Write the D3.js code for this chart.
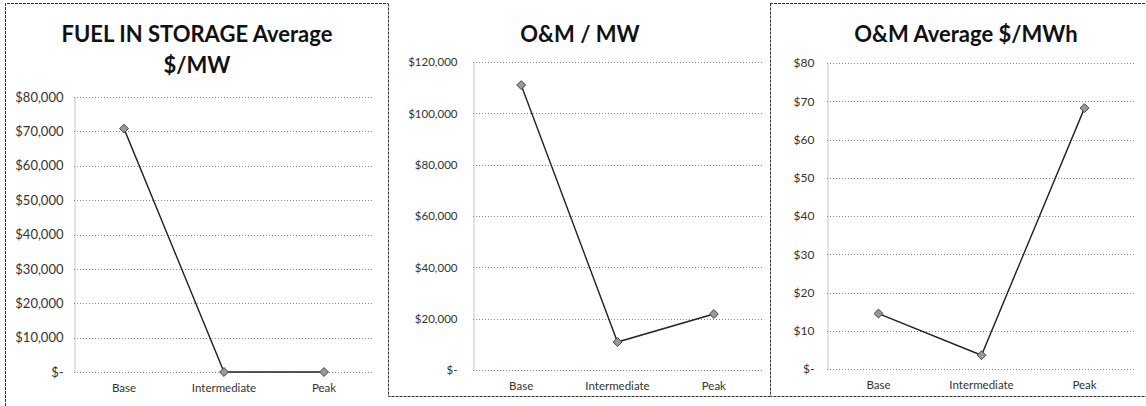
<!DOCTYPE html>
<html>
<head>
<meta charset="utf-8">
<script src="https://cdn.jsdelivr.net/npm/d3@7"></script>
<style>
  body { margin: 0; background: #fff; }
  svg { display: block; font-family: Lato, "Open Sans", sans-serif; }
</style>
</head>
<body>
<svg id="chart" width="1146" height="406"></svg>
<script>
// chart values
const categories = ["Base", "Intermediate", "Peak"]

const fuelValues = [70800, 0, 0]
const fuelTicks = [0, 10000, 20000, 30000, 40000, 50000, 60000, 70000, 80000]

const omMwValues = [111000, 10900, 21800]
const omMwTicks = [0, 20000, 40000, 60000, 80000, 100000, 120000]

const omMwhValues = [14.5, 3.6, 68.2]
const omMwhTicks = [0, 10, 20, 30, 40, 50, 60, 70, 80]

const money = v => v === 0 ? "$-" : "$" + d3.format(",")(v)

const svg = d3.select("#chart")
svg.append("rect").attr("width", 1146).attr("height", 406).attr("fill", "#fff")

// panel frames (dotted, like the scanned original)
const frame = svg.append("g")
  .attr("fill", "none").attr("stroke", "#333").attr("stroke-width", 1)
  .attr("stroke-dasharray", "3,1")
frame.append("path").attr("d", "M5.5,406 V3.5 H388")
frame.append("path").attr("d", "M388.5,3.5 V396.5 H770")
frame.append("path").attr("d", "M770.5,3.5 V396.5 H1146 M770,3.5 H1146")

function LineChart(opts){
  const {values, ticks, title, x0, x1, top, bottom, titleX, tickFont, pad, titleSize} = opts

  const g = svg.append("g")

  const x = d3.scaleBand().domain(categories).range([x0, x1])
  const y = d3.scaleLinear().domain([0, d3.max(ticks)]).range([bottom, top])

  // gridlines
  g.append("g")
   .selectAll("line").data(ticks).join("line")
     .attr("x1", x0).attr("x2", x1)
     .attr("y1", d => Math.round(y(d)) + 0.5).attr("y2", d => Math.round(y(d)) + 0.5)
     .attr("stroke", "#888").attr("stroke-width", 1)
     .attr("stroke-dasharray", "1,2")

  // y axis
  const yAxis = g.append("g")
    .attr("transform", `translate(${x0 + 0.5},0)`)
    .call(d3.axisLeft(y).tickValues(ticks).tickFormat(money).tickSize(0).tickPadding(pad))
  yAxis.select(".domain").attr("stroke", "#888").attr("stroke-dasharray", "1,1")
  yAxis.selectAll("text").attr("font-size", tickFont).attr("fill", "#333")
       .attr("font-family", "Lato, sans-serif")

  // x axis labels
  const xAxis = g.append("g")
    .attr("transform", `translate(0,${bottom})`)
    .call(d3.axisBottom(x).tickSize(0).tickPadding(12))
  xAxis.select(".domain").remove()
  xAxis.selectAll("text").attr("font-size", 11.5).attr("fill", "#333")
       .attr("font-family", "Lato, sans-serif")

  // series line
  const pts = categories.map((c, i) => [x(c) + x.bandwidth() / 2, y(values[i])])
  g.append("path")
   .attr("d", d3.line()(pts))
   .attr("fill", "none").attr("stroke", "#222").attr("stroke-width", 1.4)

  g.selectAll(".mk").data(pts).join("path")
    .attr("class", "mk")
    .attr("transform", d => `translate(${d[0]},${d[1]})`)
    .attr("d", d3.symbol(d3.symbolDiamond2, 50))
    .attr("fill", "#999").attr("stroke", "#444").attr("stroke-width", 1)

  // title
  const t = g.append("text")
    .attr("x", titleX).attr("text-anchor", "middle")
    .attr("font-size", titleSize).attr("font-weight", 700).attr("fill", "#111")
  title.forEach((line, i) => {
    t.append("tspan").attr("x", titleX).attr("y", 42 + i * 31).text(line)
  })
}

LineChart({values: fuelValues, ticks: fuelTicks, title: ["FUEL IN STORAGE Average", "$/MW"],
           x0: 74, x1: 374, top: 97, bottom: 372, titleX: 197, tickFont: 13, pad: 11, titleSize: 22})
LineChart({values: omMwValues, ticks: omMwTicks, title: ["O&M / MW"],
           x0: 473, x1: 762, top: 62, bottom: 370, titleX: 580, tickFont: 11.5, pad: 16, titleSize: 22})
LineChart({values: omMwhValues, ticks: omMwhTicks, title: ["O&M Average $/MWh"],
           x0: 827, x1: 1136, top: 63, bottom: 369, titleX: 966, tickFont: 12, pad: 13, titleSize: 22})
</script>
</body>
</html>
